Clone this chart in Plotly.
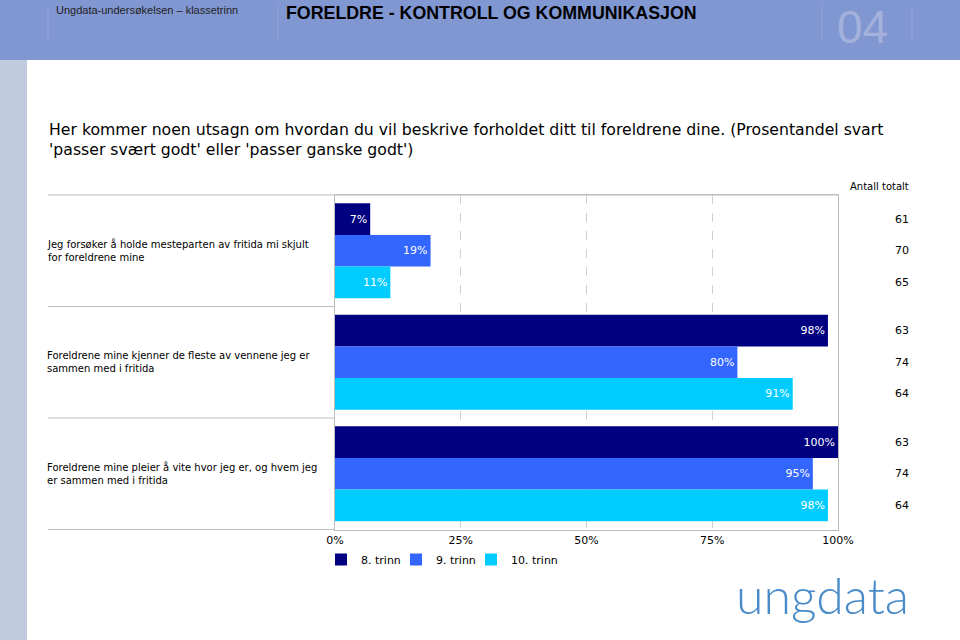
import plotly.graph_objects as go

categories = [
    "Jeg forsøker å holde mesteparten av fritida mi skjult<br>for foreldrene mine",
    "Foreldrene mine kjenner de fleste av vennene jeg er<br>sammen med i fritida",
    "Foreldrene mine pleier å vite hvor jeg er, og hvem jeg<br>er sammen med i fritida",
]
series_names = ["8. trinn", "9. trinn", "10. trinn"]
values_8 = [7, 98, 100]
values_9 = [19, 80, 95]
values_10 = [11, 91, 98]
n_8 = [61, 63, 63]
n_9 = [70, 74, 74]
n_10 = [65, 64, 64]
tick_vals = [0, 25, 50, 75, 100]
tick_text = ["0%", "25%", "50%", "75%", "100%"]
colors = ["#000080", "#3366FF", "#00CCFF"]

W, H = 960, 640
x0p, x1p = 335 / W, 838 / W
ytop_px, ybot_px = 195, 530
y0p, y1p = 1 - ybot_px / H, 1 - ytop_px / H
bargap = 0.15
FONT = "DejaVu Sans"

fig = go.Figure()
for k, (name, vals, col) in enumerate(zip(series_names, [values_8, values_9, values_10], colors)):
    fig.add_trace(go.Bar(
        y=categories, x=vals, name=name, orientation="h",
        marker=dict(color=col, line=dict(width=0)),
        text=[f"{v}%" for v in vals], textposition="inside",
        insidetextanchor="end", textangle=0,
        textfont=dict(color="white", size=11, family=FONT),
        cliponaxis=False,
        legendwidth=60 if k == 2 else 30,
    ))

cat_px = (ybot_px - ytop_px) / len(categories)
bar_px = (1 - bargap) * cat_px / 3

annotations = []
for i, cat in enumerate(categories):
    annotations.append(dict(
        x=45 / W, xref="paper", y=cat, yref="y", text=cat, showarrow=False,
        xanchor="left", align="left", font=dict(size=10, family=FONT, color="#000"),
    ))
    for j, ns in enumerate([n_8, n_9, n_10]):
        annotations.append(dict(
            x=911 / W, xref="paper", y=cat, yref="y", text=str(ns[i]), showarrow=False,
            xanchor="right", yshift=(1 - j) * bar_px,
            font=dict(size=11, family=FONT, color="#000"),
        ))

annotations += [
    dict(x=911 / W, y=1 - 186 / H, xref="paper", yref="paper", text="Antall totalt",
         showarrow=False, xanchor="right", yanchor="middle",
         font=dict(size=10, family=FONT, color="#000")),
    dict(x=47 / W, y=1 - 118 / H, xref="paper", yref="paper", yanchor="top", xanchor="left",
         align="left", showarrow=False,
         text="Her kommer noen utsagn om hvordan du vil beskrive forholdet ditt til foreldrene dine. (Prosentandel svart<br>'passer svært godt' eller 'passer ganske godt')",
         font=dict(size=15.7, family=FONT, color="#000")),
    dict(x=54 / W, y=1 - 10 / H, xref="paper", yref="paper", yanchor="middle", xanchor="left",
         showarrow=False, text="Ungdata-undersøkelsen – klassetrinn",
         font=dict(size=11, family="Liberation Sans", color="#222")),
    dict(x=284 / W, y=1 - 13 / H, xref="paper", yref="paper", yanchor="middle", xanchor="left",
         showarrow=False, text="<b>FORELDRE - KONTROLL OG KOMMUNIKASJON</b>",
         font=dict(size=17.8, family="Liberation Sans", color="#000")),
    dict(x=836 / W, y=1, xref="paper", yref="paper", yanchor="top", xanchor="left",
         showarrow=False, text="04", borderpad=0,
         font=dict(size=46, family="Liberation Sans", color="#A3B1DC")),
    dict(x=822 / W, y=1 - 595 / H, xref="paper", yref="paper", yanchor="middle", xanchor="center",
         showarrow=False, text="ungdata",
         font=dict(size=50, family="Lato", color="#4A8CC8", weight=300)),
]

shapes = [
    dict(type="rect", xref="paper", yref="paper", x0=0, x1=1, y0=1 - 60 / H, y1=1,
         fillcolor="#8197D2", line=dict(width=0), layer="below"),
    dict(type="rect", xref="paper", yref="paper", x0=0, x1=27 / W, y0=0, y1=1 - 60 / H,
         fillcolor="#C1CBE0", line=dict(width=0), layer="below"),
    dict(type="line", xref="paper", yref="paper", x0=48 / W, x1=x1p, y0=y1p, y1=y1p,
         line=dict(color="#BDBDBD", width=1)),
]
for xp in [48, 278, 822, 912]:
    shapes.append(dict(type="line", xref="paper", yref="paper", x0=xp / W, x1=xp / W,
                       y0=1 - 40 / H, y1=1 - 4 / H, line=dict(color="#8FA2D8", width=1)))
for k in range(len(categories)):
    yb = k + 0.5
    shapes.append(dict(type="line", xref="paper", yref="y", x0=48 / W, x1=x0p, y0=yb, y1=yb,
                       line=dict(color="#BDBDBD", width=1)))

fig.update_layout(
    width=W, height=H, barmode="group", bargap=bargap, bargroupgap=0,
    paper_bgcolor="white", plot_bgcolor="white",
    margin=dict(l=0, r=0, t=0, b=0, pad=0, autoexpand=False),
    font=dict(family=FONT, size=11, color="#000"),
    xaxis=dict(domain=[x0p, x1p], range=[0, 100], tickvals=tick_vals, ticktext=tick_text,
               showgrid=True, gridcolor="#D0D0D0", griddash="dash", zeroline=False,
               showline=True, mirror=True, linecolor="#BDBDBD", linewidth=1, automargin=False,
               ticks="", tickfont=dict(size=11, family=FONT, color="#000"), fixedrange=True),
    yaxis=dict(domain=[y0p, y1p], autorange="reversed", showticklabels=False, automargin=False,
               showline=True, mirror=True, linecolor="#BDBDBD", linewidth=1, showgrid=False,
               ticks=""),
    legend=dict(orientation="h", x=321 / W, y=1 - 545 / H, xanchor="left", yanchor="top",
                font=dict(size=11, family=FONT, color="#000"), itemwidth=30,
                traceorder="normal", bgcolor="rgba(0,0,0,0)"),
    annotations=annotations, shapes=shapes, showlegend=True,
)

fig.write_html(
    "out.html",
    config={"responsive": False, "displayModeBar": False},
    post_script="document.body.style.margin='0';document.body.style.overflow='hidden';",
)
